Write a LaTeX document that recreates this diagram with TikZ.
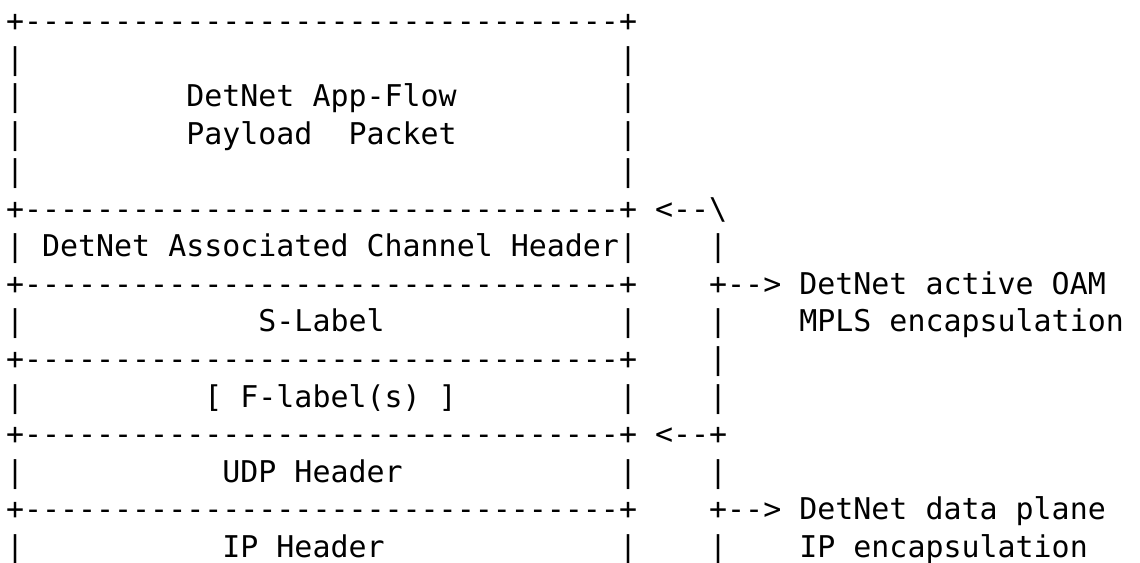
\documentclass[tikz,border=0pt]{standalone}
\usepackage{fontspec}
\setmonofont{DejaVu Sans Mono}
\tikzset{
  asc/.style={anchor=base west, inner sep=0pt, outer sep=0pt,
    font=\ttfamily\fontsize{29.95bp}{37bp}\selectfont, text=black},
}
\newcommand\cx[1]{\fpeval{6+#1*18.03}}
\newcommand\ry[1]{\fpeval{32+(#1-1)*37.5}}
\newcommand\ascat[4]{\node[asc] (#1) at (\cx{#2},\ry{#3}) {#4};}
\newcommand\dashrow{+---------------------------------+}
\begin{document}
\begin{tikzpicture}[x=1bp,y=-1bp]
\useasboundingbox[fill=white] (0,0) rectangle (1140,563);
% payload box
\ascat{b1}{0}{1}{\dashrow}
\foreach \r in {2,...,5}{
  \ascat{l\r}{0}{\r}{|}
  \ascat{r\r}{34}{\r}{|}
}
\ascat{app}{10}{3}{DetNet App-Flow}
\ascat{pay}{10}{4}{Payload\ \ Packet}
\ascat{b6}{0}{6}{\dashrow}
\ascat{a6}{36}{6}{<--\textbackslash}
% associated channel header
\ascat{l7}{0}{7}{|}
\ascat{ach}{2}{7}{DetNet Associated Channel Header|}
\ascat{v7}{39}{7}{|}
\ascat{b8}{0}{8}{\dashrow}
\ascat{a8}{39}{8}{+-->}
\ascat{oam}{44}{8}{DetNet active OAM}
% S-label
\ascat{l9}{0}{9}{|}
\ascat{sl}{14}{9}{S-Label}
\ascat{r9}{34}{9}{|}
\ascat{v9}{39}{9}{|}
\ascat{mpls}{44}{9}{MPLS encapsulation}
\ascat{b10}{0}{10}{\dashrow}
\ascat{v10}{39}{10}{|}
% F-labels
\ascat{l11}{0}{11}{|}
\ascat{fl}{11}{11}{[ F-label(s) ]}
\ascat{r11}{34}{11}{|}
\ascat{v11}{39}{11}{|}
\ascat{b12}{0}{12}{\dashrow}
\ascat{a12}{36}{12}{<--+}
% UDP
\ascat{l13}{0}{13}{|}
\ascat{udp}{12}{13}{UDP Header}
\ascat{r13}{34}{13}{|}
\ascat{v13}{39}{13}{|}
\ascat{b14}{0}{14}{\dashrow}
\ascat{a14}{39}{14}{+-->}
\ascat{dp}{44}{14}{DetNet data plane}
% IP
\ascat{l15}{0}{15}{|}
\ascat{ip}{12}{15}{IP Header}
\ascat{r15}{34}{15}{|}
\ascat{v15}{39}{15}{|}
\ascat{ipe}{44}{15}{IP encapsulation}
\end{tikzpicture}
\end{document}
